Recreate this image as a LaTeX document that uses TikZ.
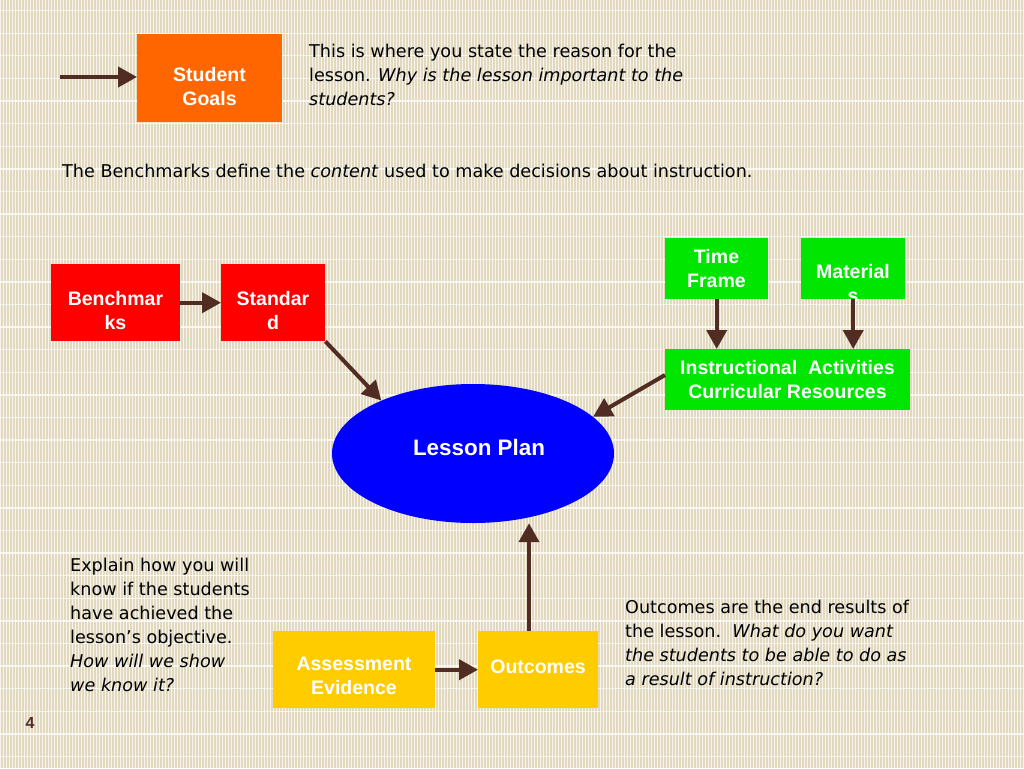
\documentclass[tikz,border=0pt]{standalone}
\usepackage{fontspec}
\setmainfont{Liberation Sans}
\newfontfamily\tahomalike{DejaVu Sans}
\usetikzlibrary{arrows.meta,shapes.geometric}
\definecolor{bgbeige}{RGB}{226,216,190}
\definecolor{arrowbrown}{RGB}{80,44,34}
\definecolor{sgorange}{RGB}{255,102,0}
\definecolor{bmred}{RGB}{255,0,0}
\definecolor{tfgreen}{RGB}{0,230,0}
\definecolor{aeyellow}{RGB}{255,204,0}
\definecolor{lpblue}{RGB}{0,0,255}
\tikzset{
  box/.style={draw=none, minimum width=#1, inner sep=0pt, anchor=north west},
  boxtext/.style={text=white, font=\fontsize{19.5}{24}\selectfont\bfseries, align=center, inner sep=0pt},
  body/.style={text=black, font=\tahomalike\fontsize{17.6}{24}\selectfont, align=left, inner sep=0pt, anchor=north west},
  conn/.style={draw=arrowbrown, line width=4pt, -{Triangle[width=20pt,length=19pt]}},
}
\begin{document}
\begin{tikzpicture}[x=1pt,y=-1pt]
\useasboundingbox (0,0) rectangle (1024,768);
\fill[bgbeige] (0,0) rectangle (1024,768);
\foreach \i in {0,...,341} {\fill[white,opacity=0.75] (\i*3,0) rectangle (\i*3+1.1,768);}
\foreach \j in {0,...,34} {\fill[white,opacity=0.75] (0,\j*22.6+10) rectangle (1024,\j*22.6+11.3);}

% boxes
\node[box=145pt, minimum height=88pt, fill=sgorange] (sg) at (137,34) {};
\node[boxtext] (sgt) at (209.5,87) {Student\\Goals};
\node[box=129pt, minimum height=77pt, fill=bmred] (bm) at (51,264) {};
\node[boxtext] (bmt) at (115.5,310.5) {Benchmar\\ks};
\node[box=104pt, minimum height=77pt, fill=bmred] (st) at (221,264) {};
\node[boxtext] (stt) at (273,310.5) {Standar\\d};
\node[box=103pt, minimum height=61pt, fill=tfgreen] (tf) at (665,238) {};
\node[boxtext] (tft) at (716.5,268.5) {Time\\Frame};
\node[box=104pt, minimum height=61pt, fill=tfgreen] (ma) at (801,238) {};
\node[boxtext] (mat) at (853,283.5) {Material\\s};
\node[box=245pt, minimum height=61pt, fill=tfgreen] (ia) at (665,349) {};
\node[boxtext] (iat) at (787.5,379.5) {Instructional\ \ Activities\\Curricular Resources};
\node[ellipse, fill=lpblue, minimum width=282pt, minimum height=139pt, inner sep=0pt] (lp) at (473,453.5) {};
\node[text=white, font=\fontsize{22.4}{26}\selectfont\bfseries, inner sep=0pt] (lpt) at (479,447.5) {Lesson Plan};
\node[box=162pt, minimum height=77pt, fill=aeyellow] (ae) at (273,631) {};
\node[boxtext] (aet) at (354,675.5) {Assessment\\Evidence};
\node[box=120pt, minimum height=77pt, fill=aeyellow] (oc) at (478,631) {};
\node[boxtext] (oct) at (538,666.5) {Outcomes};

% texts
\node[body] (t1) at (309,44) {This is where you state the reason for the\\lesson. \textit{Why is the lesson important to the}\\\textit{students?}};
\node[body] (t2) at (62,164) {The Benchmarks define the \textit{content} used to make decisions about instruction.};
\node[body] (t3) at (70,558) {Explain how you will\\know if the students\\have achieved the\\lesson’s objective.\\\textit{How will we show}\\\textit{we know it?}};
\node[body] (t4) at (625,600) {Outcomes are the end results of\\the lesson.\ \ \textit{What do you want}\\\textit{the students to be able to do as}\\\textit{a result of instruction?}};
\node[text=arrowbrown, font=\fontsize{16}{18}\selectfont\bfseries, inner sep=0pt] (pg) at (30,722.5) {4};

% connectors
\coordinate (s0) at (60,77);
\coordinate (iaw) at (665,375);
\coordinate (ocn) at (529,631);
\draw[conn] (s0) -- (s0 -| sg.west);
\draw[conn] (bm.east) -- (st.west);
\draw[conn] (st.south east) -- (lp.150);
\draw[conn] (tf.south) -- (tf.south |- ia.north);
\draw[conn] (ma.south) -- (ma.south |- ia.north);
\draw[conn] (iaw) -- (lp.17);
\draw[conn] (ae.east) -- (oc.west);
\draw[conn] (ocn) -- (ocn |- lp.south);
\end{tikzpicture}
\end{document}
